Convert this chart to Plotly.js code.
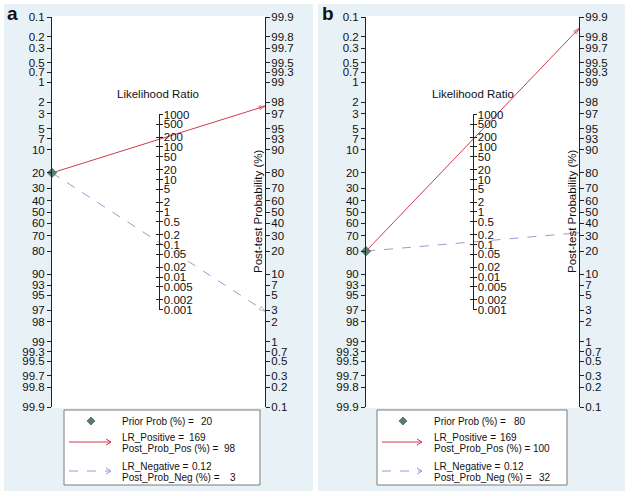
<!DOCTYPE html>
<html><head><meta charset="utf-8">
<script src="https://cdn.plot.ly/plotly-3.0.1.min.js"></script>
<style>html,body{margin:0;padding:0;background:#fff}#chart{width:629px;height:496px}</style>
</head><body><div id="chart"></div>
<script>
// ---------- data ----------
const probTicks = [0.1,0.2,0.3,0.5,0.7,1,2,3,5,7,10,20,30,40,50,60,70,80,90,93,95,97,98,99,99.3,99.5,99.7,99.8,99.9];
const lrTicks = [1000,500,200,100,50,20,10,5,2,1,0.5,0.2,0.1,0.05,0.02,0.01,0.005,0.002,0.001];
const panelLabels = ['a','b'];
const priorProb = [20, 80];
const lrPositive = [169, 169];
const lrNegative = [0.12, 0.12];
const postProbPos = [97.7, 99.85];
const postProbNeg = [2.9, 32.4];
const postProbPosLabel = [98, 100];
const postProbNegLabel = [3, 32];

// ---------- geometry / style ----------
const W = 629, H = 496;
const X = px => px / W, Y = py => 1 - py / H;
const FONT = '"Liberation Sans", Arial, Helvetica, sans-serif';
const TICKFS = 11.5, LEGFS = 10;
const RED = '#d2384e', BLUE = '#9a9ad2', DIAM = '#5a7c6e', PANELBG = '#e8f1f6';
const geo = [
  {dx:0, L:52, R:265, top:17, bot:407, bg:[4,313], box:[64,260], key:[91,69,111], txt:120,
   vPrior:215, vLRp:208, vPp:238, vLRn:214, vPn:238, lab:[12,14]},
  {dx:314, L:366, R:579, top:17, bot:407, bg:[318,625], box:[377,567], key:[403,382,422], txt:432,
   vPrior:528, vLRp:519, vPp:552, vLRn:526, vPn:553, lab:[328,13]}
];
const logit = p => Math.log(p / (100 - p));
const U = logit(99.9);
const uLR = Math.log(1000) / 2;

const traces = [];
const layout = {
  width: W, height: H, margin: {l:0, r:0, t:0, b:0},
  paper_bgcolor: '#ffffff', plot_bgcolor: 'rgba(0,0,0,0)', showlegend: false,
  font: {family: FONT, size: TICKFS, color: '#111'},
  shapes: [], annotations: []
};

panelLabels.forEach((lab, i) => {
  const g = geo[i];
  const xid = i === 0 ? 'x' : 'x2', xkey = i === 0 ? 'xaxis' : 'xaxis2';
  const yn = k => 4 * i + k;
  const yid = k => 'y' + (yn(k) === 1 ? '' : yn(k));
  const ykey = k => 'yaxis' + (yn(k) === 1 ? '' : yn(k));
  const yDom = [Y(g.bot), Y(g.top)];
  const common = {showgrid:false, zeroline:false, showline:true, linecolor:'#222', linewidth:1,
    ticks:'outside', tickcolor:'#222', ticklen:4, tickwidth:1, fixedrange:true,
    tickmode:'array', tickfont:{family:FONT, size:TICKFS, color:'#111'}};
  layout[xkey] = {domain:[X(g.L), X(g.R)], range:[0,1], visible:false, fixedrange:true, anchor:yid(1)};
  layout[ykey(1)] = Object.assign({}, common, {domain:yDom, range:[-U,U], anchor:xid, side:'left',
    tickvals: probTicks.map(p => -logit(p)), ticktext: probTicks.map(String)});
  layout[ykey(2)] = Object.assign({}, common, {range:[-U,U], overlaying:yid(1), anchor:xid, side:'right',
    ticklabelstandoff:-1, tickvals: probTicks.map(p => logit(p)), ticktext: probTicks.map(String)});
  const mid = (yDom[0] + yDom[1]) / 2, half = (yDom[1] - yDom[0]) / 2 * (uLR / U);
  const midDom = [mid - half, mid + half], midX = X((g.L + g.R) / 2);
  layout[ykey(3)] = Object.assign({}, common, {domain:midDom, range:[-uLR,uLR], anchor:'free', position:midX,
    side:'right', ticklen:3, ticklabelstandoff:-1,
    tickvals: lrTicks.map(v => Math.log(v) / 2), ticktext: lrTicks.map(String)});
  layout[ykey(4)] = Object.assign({}, common, {domain:midDom, range:[-uLR,uLR], anchor:'free', position:midX,
    side:'right', ticks:'inside', ticklen:3, tickvals: lrTicks.map(v => Math.log(v) / 2), showticklabels:false});

  // dummy traces so overlay/free axes are drawn
  [2,3,4].forEach(k => traces.push({x:[0.5], y:[0], xaxis:xid, yaxis:yid(k), mode:'markers',
    marker:{opacity:0, size:1}, hoverinfo:'skip', showlegend:false}));

  const y0 = -logit(priorProb[i]);
  traces.push({x:[0,1], y:[y0, logit(postProbPos[i])], xaxis:xid, yaxis:yid(1), mode:'lines+markers',
    cliponaxis:false, hoverinfo:'skip', line:{color:RED, width:1},
    marker:{symbol:['circle','arrow-open'], size:[0,6], angleref:'previous', color:RED, line:{color:RED, width:1}}});
  traces.push({x:[0,1], y:[y0, logit(postProbNeg[i])], xaxis:xid, yaxis:yid(1), mode:'lines+markers',
    cliponaxis:false, hoverinfo:'skip', line:{color:BLUE, width:1, dash:'dash'},
    marker:{symbol:['circle','arrow-open'], size:[0,6], angleref:'previous', color:BLUE, line:{color:BLUE, width:1}}});
  traces.push({x:[0], y:[y0], xaxis:xid, yaxis:yid(1), mode:'markers', cliponaxis:false, hoverinfo:'skip',
    marker:{symbol:'diamond', size:8, color:DIAM}});

  // panel backgrounds
  layout.shapes.push({type:'rect', xref:'paper', yref:'paper', layer:'below', x0:X(g.bg[0]), x1:X(g.bg[1]),
    y0:Y(491), y1:Y(4), fillcolor:PANELBG, line:{width:0}});
  layout.shapes.push({type:'rect', xref:'paper', yref:'paper', layer:'below', x0:X(g.L), x1:X(g.R),
    y0:Y(408), y1:Y(16), fillcolor:'#ffffff', line:{width:0}});

  // titles
  layout.annotations.push({xref:'paper', yref:'paper', x:X((g.L + g.R) / 2), y:Y(94), text:'Likelihood Ratio',
    showarrow:false, xanchor:'center', yanchor:'middle', font:{family:FONT, size:TICKFS, color:'#111'}});
  layout.annotations.push({xref:'paper', yref:'paper', x:X(g.R - 7), y:Y(211), text:'Post-test Probability (%)',
    textangle:-90, showarrow:false, xanchor:'center', yanchor:'middle', font:{family:FONT, size:TICKFS, color:'#111'}});
  layout.annotations.push({xref:'paper', yref:'paper', x:X(g.lab[0]), y:Y(g.lab[1]), text:'<b>' + lab + '</b>',
    showarrow:false, xanchor:'center', yanchor:'middle', font:{family:FONT, size:19, color:'#111'}});

  // legend box
  layout.shapes.push({type:'rect', xref:'paper', yref:'paper', x0:X(g.box[0]), x1:X(g.box[1]),
    y0:Y(485), y1:Y(410), fillcolor:'#ffffff', line:{color:'#7a7a7a', width:1}});
  const kx = g.key[0], a0 = g.key[1], a1 = g.key[2];
  layout.shapes.push({type:'path', xref:'paper', yref:'paper',
    path:`M${X(kx)},${Y(417)} L${X(kx+4)},${Y(421)} L${X(kx)},${Y(425)} L${X(kx-4)},${Y(421)} Z`,
    fillcolor:DIAM, line:{color:DIAM, width:1}});
  layout.shapes.push({type:'line', xref:'paper', yref:'paper', x0:X(a0), x1:X(a1), y0:Y(442), y1:Y(442),
    line:{color:RED, width:1}});
  layout.shapes.push({type:'path', xref:'paper', yref:'paper',
    path:`M${X(a1-5)},${Y(439)} L${X(a1)},${Y(442)} L${X(a1-5)},${Y(445)}`, line:{color:RED, width:1}});
  layout.shapes.push({type:'line', xref:'paper', yref:'paper', x0:X(a0), x1:X(a1), y0:Y(471), y1:Y(471),
    line:{color:BLUE, width:1, dash:'dash'}});
  layout.shapes.push({type:'path', xref:'paper', yref:'paper',
    path:`M${X(a1-5)},${Y(468)} L${X(a1)},${Y(471)} L${X(a1-5)},${Y(474)}`, line:{color:BLUE, width:1}});

  const legTxt = (txt, x, y, anchor) => layout.annotations.push({xref:'paper', yref:'paper', x:X(x), y:Y(y),
    text:txt, showarrow:false, xanchor:anchor, yanchor:'middle', font:{family:FONT, size:LEGFS, color:'#111'}});
  legTxt('Prior Prob (%) =', g.txt, 421, 'left');
  legTxt(String(priorProb[i]), g.vPrior, 421, 'right');
  legTxt('LR_Positive =', g.txt, 437, 'left');
  legTxt(String(lrPositive[i]), g.vLRp, 437, 'right');
  legTxt('Post_Prob_Pos (%) =', g.txt, 448, 'left');
  legTxt(String(postProbPosLabel[i]), g.vPp, 448, 'right');
  legTxt('LR_Negative =', g.txt, 466, 'left');
  legTxt(String(lrNegative[i]), g.vLRn, 466, 'right');
  legTxt('Post_Prob_Neg (%) =', g.txt, 477, 'left');
  legTxt(String(postProbNegLabel[i]), g.vPn, 477, 'right');
});

Plotly.newPlot('chart', traces, layout, {displayModeBar:false, staticPlot:true});
</script>
</body></html>
